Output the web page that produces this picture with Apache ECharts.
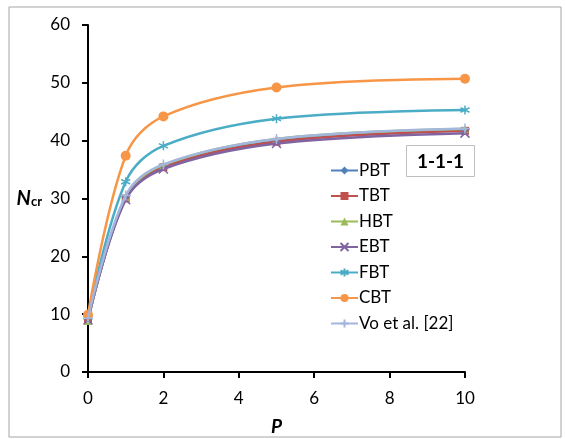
<!DOCTYPE html>
<html>
<head>
<meta charset="utf-8">
<script src="https://cdn.jsdelivr.net/npm/echarts@6/dist/echarts.min.js"></script>
<style>
  html, body { margin: 0; padding: 0; background: #fff; }
  #chart { width: 565px; height: 439px; }
</style>
</head>
<body>
<div id="chart"></div>
<script>
var pValues = [0, 1, 2, 5, 10];
var pbt = [9.0, 30.1, 35.5, 40.0, 41.8];
var tbt = [9.0, 30.0, 35.4, 39.8, 41.7];
var hbt = [8.8, 30.2, 35.8, 40.3, 42.0];
var ebt = [9.0, 29.8, 35.1, 39.5, 41.3];
var fbt = [9.5, 32.9, 39.1, 43.8, 45.3];
var cbt = [9.9, 37.4, 44.2, 49.2, 50.7];
var vo = [9.3, 30.5, 35.9, 40.3, 42.1];

var seriesNames = ['PBT', 'TBT', 'HBT', 'EBT', 'FBT', 'CBT', 'Vo et al. [22]'];
var seriesData = [pbt, tbt, hbt, ebt, fbt, cbt, vo];
var colors = ['#4F81BD', '#C0504D', '#9BBB59', '#8064A2', '#4BACC6', '#F79646', '#A3B6DE'];
var symbols = [
    'diamond',
    'rect',
    'triangle',
    'path://M0,0L10,10M10,0L0,10',
    'path://M5,0L5,10M0,2.5L10,7.5M0,7.5L10,2.5',
    'circle',
    'path://M5,0L5,10M0,5L10,5'
];
var sizes = [7, 8, 8, 9, 9, 10, 10];

function pairs(arr) {
    return arr.map(function (v, i) { return [pValues[i], v]; });
}

var chart = echarts.init(document.getElementById('chart'));
var font = 'Lato, "Noto Sans", sans-serif';

var series = seriesNames.map(function (name, i) {
    var isPath = symbols[i].indexOf('path://') === 0;
    return {
        name: name,
        type: 'line',
        smooth: 0.35,
        data: pairs(seriesData[i]),
        symbol: symbols[i],
        symbolSize: sizes[i],
        lineStyle: { color: colors[i], width: 2.5 },
        itemStyle: isPath
            ? { color: colors[i], borderColor: colors[i], borderWidth: 1.5 }
            : { color: colors[i] },
        z: 2 + i
    };
});

var option = {
    animation: false,
    color: colors,
    grid: { left: 88, right: 100, top: 25, bottom: 67, containLabel: false, outerBoundsMode: 'none' },
    legend: {
        orient: 'vertical',
        left: 325,
        top: 157,
        itemWidth: 27,
        itemHeight: 10,
        itemGap: 8.5,
        textStyle: { fontFamily: font, fontSize: 17, color: '#000', padding: [0, 0, 0, -4] },
        data: seriesNames
    },
    xAxis: {
        type: 'value',
        min: 0, max: 10, interval: 2,
        name: 'P',
        nameLocation: 'middle',
        nameGap: 45,
        nameTextStyle: { fontFamily: font, fontSize: 19, fontWeight: 'bold', fontStyle: 'italic', color: '#000' },
        axisLine: { show: true, onZero: false, lineStyle: { color: '#000', width: 2 } },
        axisTick: { show: true, length: 6, lineStyle: { color: '#000', width: 2 } },
        axisLabel: { fontFamily: font, fontSize: 17, color: '#000', margin: 18 },
        splitLine: { show: false }
    },
    yAxis: {
        type: 'value',
        min: 0, max: 60, interval: 10,
        name: '{n|N}{s|cr}',
        nameLocation: 'middle',
        nameRotate: 0,
        nameGap: 46,
        nameTextStyle: {
            rich: {
                n: { fontFamily: font, fontSize: 20, fontWeight: 'bold', fontStyle: 'italic', color: '#000' },
                s: { fontFamily: font, fontSize: 13, fontWeight: 'bold', color: '#000', padding: [7, 0, 0, 0] }
            }
        },
        axisLine: { show: true, lineStyle: { color: '#000', width: 2 } },
        axisTick: { show: true, length: 6, lineStyle: { color: '#000', width: 2 } },
        axisLabel: { fontFamily: font, fontSize: 17, color: '#000', margin: 18 },
        splitLine: { show: false }
    },
    graphic: [
        {
            type: 'rect',
            shape: { x: 9, y: 7, width: 552, height: 430 },
            style: { fill: 'none', stroke: '#A6A6A6', lineWidth: 1 },
            silent: true
        },
        {
            type: 'group',
            left: 406,
            top: 145,
            children: [
                {
                    type: 'rect',
                    shape: { x: 0, y: 0, width: 68, height: 31 },
                    style: { fill: '#fff', stroke: '#BFBFBF', lineWidth: 1 }
                },
                {
                    type: 'text',
                    x: 34, y: 16,
                    style: {
                        text: '1-1-1',
                        fontFamily: font,
                        fontSize: 19,
                        fontWeight: 'bold',
                        fill: '#000',
                        align: 'center',
                        verticalAlign: 'middle'
                    }
                }
            ]
        }
    ],
    series: series
};

chart.setOption(option);
</script>
</body>
</html>
